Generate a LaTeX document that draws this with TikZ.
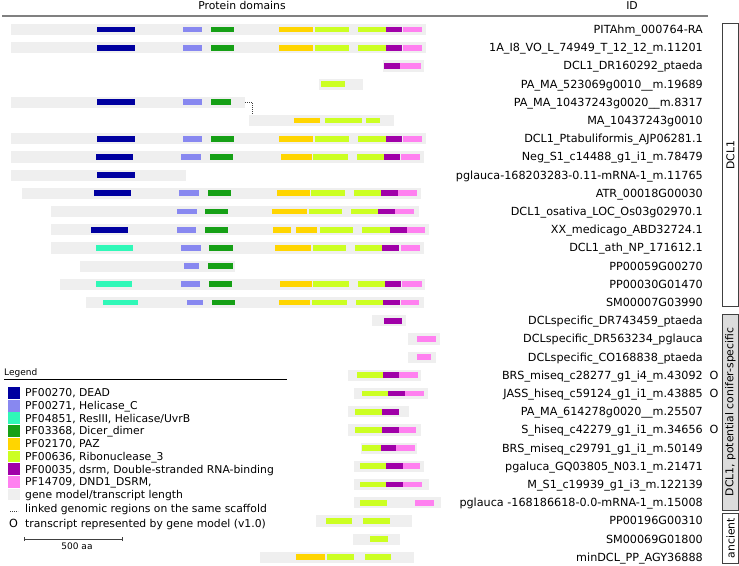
\documentclass[tikz,border=0pt]{standalone}
\usepackage{fontspec}
\setmainfont{DejaVu Sans}
\definecolor{cDEAD}{HTML}{0000A0}
\definecolor{cHC}{HTML}{8888F0}
\definecolor{cRS}{HTML}{30F8B8}
\definecolor{cDD}{HTML}{16A016}
\definecolor{cPAZ}{HTML}{FFD500}
\definecolor{cR3}{HTML}{CCFF22}
\definecolor{cDS}{HTML}{A000A8}
\definecolor{cDN}{HTML}{FF80F0}
\definecolor{cGM}{HTML}{EFEFEF}
\definecolor{cBox}{HTML}{DCDCDC}
\definecolor{cLine}{HTML}{808080}
\definecolor{cEdge}{HTML}{404040}
\tikzset{
  lab/.style={anchor=base east, inner sep=0pt, font=\fontsize{11.2}{13}\selectfont},
  omark/.style={anchor=base, inner sep=0pt, font=\fontsize{11.2}{13}\selectfont},
  hdr/.style={anchor=base, inner sep=0pt, font=\fontsize{10.8}{13}\selectfont},
  legtxt/.style={anchor=base west, inner sep=0pt, font=\fontsize{10.8}{13}\selectfont},
  smalltxt/.style={inner sep=0pt, font=\fontsize{9}{11}\selectfont},
  grpbox/.style={draw=cEdge, line width=0.9pt},
  grptxt/.style={rotate=90, inner sep=0pt, font=\fontsize{10.8}{13}\selectfont},
  linkst/.style={draw=cEdge, line width=0.8pt, dash pattern=on 0.9pt off 1.1pt},
  swatch/.style={draw=none},
}
\newcommand\GBar[3]{\fill[cGM] (#2,{29.5+18.2*(#1-1)-5.6}) rectangle (#3,{29.5+18.2*(#1-1)+5.6});}
\newcommand\Dom[4]{\fill[#1] (#3,{29.5+18.2*(#2-1)-2.9}) rectangle (#4,{29.5+18.2*(#2-1)+2.9});}
\newcommand\RLab[3]{\node[lab] (#1) at (703,{29.5+18.2*(#2-1)+3.9}) {#3};}
\newcommand\OMark[2]{\node[omark] (#1) at (714,{29.5+18.2*(#2-1)+3.9}) {O};}
\newcommand\FullRow[1]{%
  \GBar{#1}{11}{426}
  \Dom{cDEAD}{#1}{97}{135}\Dom{cHC}{#1}{183}{202}\Dom{cDD}{#1}{211}{234}
  \Dom{cPAZ}{#1}{279}{313}\Dom{cR3}{#1}{315}{349}\Dom{cR3}{#1}{358}{386}
  \Dom{cDS}{#1}{386}{402}\Dom{cDN}{#1}{403}{422}}
\begin{document}
\begin{tikzpicture}[x=1pt,y=-1pt]
\useasboundingbox (0,0) rectangle (739,565);
\fill[white] (0,0) rectangle (739,565);
% header
\node[hdr] (hpd) at (242,9.5) {Protein domains};
\node[hdr] (hid) at (632,9.5) {ID};
\draw[cLine, line width=2pt] (2,16) -- (708,16);
% rows
\FullRow{1}
\FullRow{2}
\GBar{3}{383}{424}\Dom{cDS}{3}{384}{400}\Dom{cDN}{3}{400}{421}
\GBar{4}{319}{363}\Dom{cR3}{4}{321}{345}
\GBar{5}{11}{245}\Dom{cDEAD}{5}{97}{135}\Dom{cHC}{5}{183}{202}\Dom{cDD}{5}{211}{231}
\GBar{6}{249}{394}\Dom{cPAZ}{6}{294}{320}\Dom{cR3}{6}{325}{362}\Dom{cR3}{6}{366}{380}
\FullRow{7}
\GBar{8}{11}{424}\Dom{cDEAD}{8}{96}{133}\Dom{cHC}{8}{181}{201}\Dom{cDD}{8}{210}{233}
  \Dom{cPAZ}{8}{281}{312}\Dom{cR3}{8}{313}{348}\Dom{cR3}{8}{357}{384}\Dom{cDS}{8}{384}{400}\Dom{cDN}{8}{401}{420}
\GBar{9}{11}{186}\Dom{cDEAD}{9}{97}{135}
\GBar{10}{22}{421}\Dom{cDEAD}{10}{94}{131}\Dom{cHC}{10}{179}{199}\Dom{cDD}{10}{208}{231}
  \Dom{cPAZ}{10}{277}{310}\Dom{cR3}{10}{311}{345}\Dom{cR3}{10}{354}{381}\Dom{cDS}{10}{381}{398}\Dom{cDN}{10}{398}{417}
\GBar{11}{51}{419}\Dom{cHC}{11}{177}{197}\Dom{cDD}{11}{205}{228}
  \Dom{cPAZ}{11}{272}{307}\Dom{cR3}{11}{309}{342}\Dom{cR3}{11}{351}{378}\Dom{cDS}{11}{378}{395}\Dom{cDN}{11}{395}{414}
\GBar{12}{51}{429}\Dom{cDEAD}{12}{91}{128}\Dom{cHC}{12}{177}{196}\Dom{cDD}{12}{205}{228}
  \Dom{cPAZ}{12}{273}{291}\Dom{cPAZ}{12}{296}{317}\Dom{cR3}{12}{320}{353}\Dom{cR3}{12}{362}{390}\Dom{cDS}{12}{390}{407}\Dom{cDN}{12}{407}{425}
\GBar{13}{51}{424}\Dom{cRS}{13}{96}{133}\Dom{cHC}{13}{181}{201}\Dom{cDD}{13}{209}{233}
  \Dom{cPAZ}{13}{275}{311}\Dom{cR3}{13}{313}{346}\Dom{cR3}{13}{355}{382}\Dom{cDS}{13}{382}{399}\Dom{cDN}{13}{401}{420}
\GBar{14}{80}{235}\Dom{cHC}{14}{184}{199}\Dom{cDD}{14}{208}{233}
\GBar{15}{60}{425}\Dom{cRS}{15}{96}{132}\Dom{cHC}{15}{181}{200}\Dom{cDD}{15}{209}{232}
  \Dom{cPAZ}{15}{280}{312}\Dom{cR3}{15}{313}{349}\Dom{cR3}{15}{358}{385}\Dom{cDS}{15}{385}{401}\Dom{cDN}{15}{402}{422}
\GBar{16}{86}{424}\Dom{cRS}{16}{103}{138}\Dom{cHC}{16}{187}{203}\Dom{cDD}{16}{212}{235}
  \Dom{cPAZ}{16}{279}{310}\Dom{cR3}{16}{312}{347}\Dom{cR3}{16}{356}{383}\Dom{cDS}{16}{383}{400}\Dom{cDN}{16}{401}{419}
\GBar{17}{372}{406}\Dom{cDS}{17}{384}{402}
\GBar{18}{408}{440}\Dom{cDN}{18}{417}{436}
\GBar{19}{408}{436}\Dom{cDN}{19}{417}{431}
\GBar{20}{348}{421}\Dom{cR3}{20}{357}{383}\Dom{cDS}{20}{383}{399}\Dom{cDN}{20}{399}{418}
\GBar{21}{354}{428}\Dom{cR3}{21}{362}{388}\Dom{cDS}{21}{388}{405}\Dom{cDN}{21}{405}{424}
\GBar{22}{348}{409}\Dom{cR3}{22}{355}{382}\Dom{cDS}{22}{382}{399}
\GBar{23}{348}{421}\Dom{cR3}{23}{355}{382}\Dom{cDS}{23}{382}{399}\Dom{cDN}{23}{399}{416}
\GBar{24}{361}{417}\Dom{cR3}{24}{362}{381}\Dom{cDS}{24}{381}{396}\Dom{cDN}{24}{396}{415}
\GBar{25}{354}{424}\Dom{cR3}{25}{360}{386}\Dom{cDS}{25}{386}{403}\Dom{cDN}{25}{403}{420}
\GBar{26}{354}{429}\Dom{cR3}{26}{360}{386}\Dom{cDS}{26}{386}{403}\Dom{cDN}{26}{403}{422}
\GBar{27}{354}{441}\Dom{cR3}{27}{360}{387}\Dom{cDN}{27}{415}{434}
\GBar{28}{316}{412}\Dom{cR3}{28}{326}{352}\Dom{cR3}{28}{363}{390}
\GBar{29}{353}{400}\Dom{cR3}{29}{370}{388}
\GBar{30}{260}{414}\Dom{cPAZ}{30}{296}{325}\Dom{cR3}{30}{327}{354}\Dom{cR3}{30}{365}{391}
% link between scaffold parts
\coordinate (lnkA) at (245,{29.5+18.2*4});
\coordinate (lnkB) at (252,{29.5+18.2*5-5.6});
\draw[linkst] (lnkA) -| (lnkB);
% labels
\RLab{r1}{1}{PITAhm\_000764-RA}
\RLab{r2}{2}{1A\_I8\_VO\_L\_74949\_T\_12\_12\_m.11201}
\RLab{r3}{3}{DCL1\_DR160292\_ptaeda}
\RLab{r4}{4}{PA\_MA\_523069g0010\_\_m.19689}
\RLab{r5}{5}{PA\_MA\_10437243g0020\_\_m.8317}
\RLab{r6}{6}{MA\_10437243g0010}
\RLab{r7}{7}{DCL1\_Ptabuliformis\_AJP06281.1}
\RLab{r8}{8}{Neg\_S1\_c14488\_g1\_i1\_m.78479}
\RLab{r9}{9}{pglauca-168203283-0.11-mRNA-1\_m.11765}
\RLab{r10}{10}{ATR\_00018G00030}
\RLab{r11}{11}{DCL1\_osativa\_LOC\_Os03g02970.1}
\RLab{r12}{12}{XX\_medicago\_ABD32724.1}
\RLab{r13}{13}{DCL1\_ath\_NP\_171612.1}
\RLab{r14}{14}{PP00059G00270}
\RLab{r15}{15}{PP00030G01470}
\RLab{r16}{16}{SM00007G03990}
\RLab{r17}{17}{DCLspecific\_DR743459\_ptaeda}
\RLab{r18}{18}{DCLspecific\_DR563234\_pglauca}
\RLab{r19}{19}{DCLspecific\_CO168838\_ptaeda}
\RLab{r20}{20}{BRS\_miseq\_c28277\_g1\_i4\_m.43092}
\RLab{r21}{21}{JASS\_hiseq\_c59124\_g1\_i1\_m.43885}
\RLab{r22}{22}{PA\_MA\_614278g0020\_\_m.25507}
\RLab{r23}{23}{S\_hiseq\_c42279\_g1\_i1\_m.34656}
\RLab{r24}{24}{BRS\_miseq\_c29791\_g1\_i1\_m.50149}
\RLab{r25}{25}{pgaluca\_GQ03805\_N03.1\_m.21471}
\RLab{r26}{26}{M\_S1\_c19939\_g1\_i3\_m.122139}
\RLab{r27}{27}{pglauca -168186618-0.0-mRNA-1\_m.15008}
\RLab{r28}{28}{PP00196G00310}
\RLab{r29}{29}{SM00069G01800}
\RLab{r30}{30}{minDCL\_PP\_AGY36888}
\OMark{o20}{20}
\OMark{o21}{21}
\OMark{o23}{23}
% group boxes
\draw[grpbox, fill=white] (722,23) rectangle (738,306);
\node[grptxt] (gDCL) at (730.5,155) {DCL1};
\draw[grpbox, fill=cBox] (722,314) rectangle (738,510);
\node[grptxt] (gCon) at (730.5,412) {DCL1, potential conifer-specific};
\draw[grpbox, fill=white] (722,513) rectangle (738,563);
\node[grptxt] (gAnc) at (730.5,538) {ancient};
% legend
\node[smalltxt, anchor=base west] (legT) at (4,375) {Legend};
\draw[black, line width=0.8pt] (4,379) -- (287,379);
\foreach \c/\t [count=\i from 0] in {cDEAD/{PF00270, DEAD}, cHC/{PF00271, Helicase\_C}, cRS/{PF04851, ResIII, Helicase/UvrB}, cDD/{PF03368, Dicer\_dimer}, cPAZ/{PF02170, PAZ}, cR3/{PF00636, Ribonuclease\_3}, cDS/{PF00035, dsrm, Double-stranded RNA-binding}, cDN/{PF14709, DND1\_DSRM,}, cGM/{gene model/transcript length}}{
  \fill[\c] (8,{387+12.7*\i}) rectangle (19.5,{387+12.7*\i+11.8});
  \node[legtxt] (leg\i) at (25,{387+12.7*\i+5.9+3.9}) {\t};
}
\coordinate (dotA) at (10,511);
\coordinate (dotB) at (18,511);
\draw[linkst] (dotA) -- (dotB);
\node[legtxt] (legL) at (25,512.9) {linked genomic regions on the same scaffold};
\node[omark] (legO) at (13.5,527.4) {O};
\node[legtxt] (legOt) at (25,527.4) {transcript represented by gene model (v1.0)};
\coordinate (sbA) at (24,539);
\coordinate (sbB) at (122,539);
\draw[cEdge, line width=0.8pt] (sbA) -- (sbB);
\draw[cEdge, line width=0.8pt] ([yshift=-2pt]sbA) -- ([yshift=2pt]sbA);
\draw[cEdge, line width=0.8pt] ([yshift=-2pt]sbB) -- ([yshift=2pt]sbB);
\node[smalltxt, anchor=base] (sbT) at (77,549.5) {500 aa};
\end{tikzpicture}
\end{document}
